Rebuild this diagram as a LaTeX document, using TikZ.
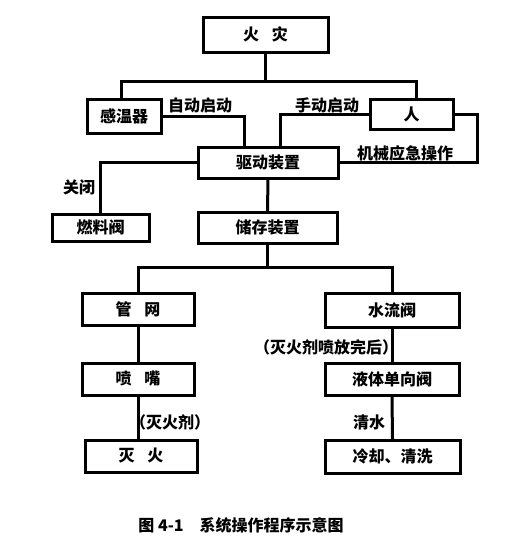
\documentclass[tikz,border=0pt]{standalone}
\usepackage{fontspec}
\setmainfont{Noto Sans CJK SC}
\begin{document}
\begin{tikzpicture}[x=1pt,y=-1pt,
  box/.style={draw,line width=3pt,minimum height=32pt,inner sep=0pt,font=\bfseries\fontsize{16pt}{17pt}\selectfont},
  lbl/.style={inner sep=0pt,font=\bfseries\fontsize{16pt}{17pt}\selectfont},
  conn/.style={line width=3pt,line cap=rect}]
\useasboundingbox (0,0) rectangle (531,560);
\node[box,minimum width=125pt,minimum height=35pt] (fire) at (265.5,34.5) {火\hspace{0.8em}灾};
\node[box,minimum width=74pt,minimum height=34pt] (sensor) at (124,116) {感温器};
\node[box,minimum width=83pt,minimum height=30pt] (person) at (411.5,114) {人};
\node[box,minimum width=140pt,minimum height=31pt] (drive) at (268,162.5) {驱动装置};
\node[box,minimum width=97pt,minimum height=27pt] (fuel) at (100.5,227.5) {燃料阀};
\node[box,minimum width=139pt,minimum height=31pt] (store) at (267.5,227.5) {储存装置};
\node[box,minimum width=112pt] (pipe) at (138,309) {管\hspace{0.8em}网};
\node[box,minimum width=112pt] (nozzle) at (138,379) {喷\hspace{0.8em}嘴};
\node[box,minimum width=112pt] (ext) at (141,456) {灭\hspace{0.8em}火};
\node[box,minimum width=134pt,minimum height=34pt] (water) at (392,310) {水流阀};
\node[box,minimum width=134pt] (check) at (392,379) {液体单向阀};
\node[box,minimum width=135pt,minimum height=33pt] (cool) at (392.5,456.5) {冷却、清洗};

\coordinate (jl) at (121,81);
\coordinate (jr) at (416,81);
\draw[conn] (fire.south) -- (fire.south |- jl);
\draw[conn] (jl |- sensor.north) -- (jl) -- (jr) -- (jr |- person.north);
\draw[conn] (sensor.east) -| ([xshift=-24pt]drive.north);
\draw[conn] (person.west) -| ([xshift=12pt]drive.north);
\draw[conn] (person.east) -- ++(23,0) |- (drive.east);
\draw[conn] (drive.west) -| (fuel.north);
\draw[conn] (drive.south) -- (store.north);
\coordinate (sj) at (263,267);
\draw[conn] (store.south) -- (store.south |- sj);
\draw[conn] (pipe.north) |- (sj) -| (water.north);
\draw[conn] (pipe.south) -- (nozzle.north);
\draw[conn] (nozzle.south) -- (nozzle.south |- ext.north);
\draw[conn] (water.south) -- (check.north);
\draw[conn] (check.south) -- (cool.north);

\node[lbl] (l1) at (200,105) {自动启动};
\node[lbl] (l2) at (327,105) {手动启动};
\node[lbl] (l3) at (405,153) {机械应急操作};
\node[lbl] (l4) at (79,187) {关闭};
\node[lbl] (l5) at (170,422) {（灭火剂）};
\node[lbl] (l6) at (326,347) {（灭火剂喷放完后）};
\node[lbl] (l7) at (369,422) {清水};
\node[lbl] (cap) at (241,525) {图 4-1\hspace{1em}系统操作程序示意图};
\end{tikzpicture}
\end{document}
